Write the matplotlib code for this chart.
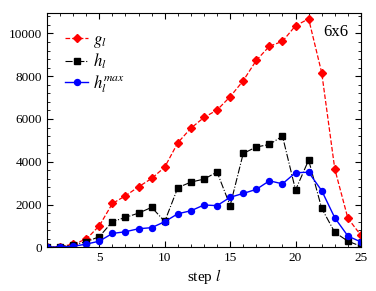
import numpy as np
import matplotlib
matplotlib.use("Agg")
import matplotlib.pyplot as plt
from matplotlib.ticker import MultipleLocator

plt.rcParams['font.family'] = ['Liberation Serif', 'DejaVu Serif']
plt.rcParams['mathtext.fontset'] = 'stix'

steps = list(range(1, 26))
g = [0, 30, 150, 380, 1010, 2050, 2410, 2830, 3220, 3750, 4890, 5570, 6070, 6420,
     7040, 7790, 8740, 9400, 9630, 10360, 10680, 8160, 3660, 1360, 560]
h = [0, 30, 120, 260, 500, 1200, 1400, 1600, 1870, 1210, 2790, 3050, 3190, 3520,
     1950, 4390, 4690, 4810, 5200, 2680, 4080, 1820, 700, 290, 50]
hmax = [0, 20, 50, 150, 290, 650, 730, 870, 920, 1200, 1570, 1710, 1980, 1950,
        2340, 2520, 2710, 3110, 2970, 3490, 3510, 2650, 1380, 530, 250]

fig = plt.figure(figsize=(3.76, 2.91), dpi=100)
ax = fig.add_axes([0.125, 0.150, 0.835, 0.805])

ax.plot(steps, g, color='red', ls='--', lw=0.9, marker='D', ms=3.6, label='$g_l$')
ax.plot(steps, h, color='black', ls='-.', lw=0.8, marker='s', ms=4.0, label='$h_l$')
ax.plot(steps, hmax, color='blue', ls='-', lw=1.0, marker='o', ms=4.3, label='$h_l^{max}$')

ax.set_xlim(1, 25)
ax.set_ylim(0, 10950)
ax.xaxis.set_major_locator(MultipleLocator(5))
ax.xaxis.set_minor_locator(MultipleLocator(1))
ax.yaxis.set_major_locator(MultipleLocator(2000))
ax.yaxis.set_minor_locator(MultipleLocator(400))
ax.tick_params(which='both', direction='in', top=True, right=True, labelsize=9.5)
ax.tick_params(which='major', length=4)
ax.tick_params(which='minor', length=2)
ax.set_xticks([5, 10, 15, 20, 25])
ax.set_xlabel('step $l$', fontsize=11, labelpad=2)

ax.text(0.96, 0.92, '6x6', transform=ax.transAxes, ha='right', va='center', fontsize=12)

ax.legend(loc='upper left', bbox_to_anchor=(0.02, 0.97), frameon=False, fontsize=12,
          handlelength=1.4, handletextpad=0.3, labelspacing=0.12, borderaxespad=0.3)

fig.savefig('out.png', dpi=100)
